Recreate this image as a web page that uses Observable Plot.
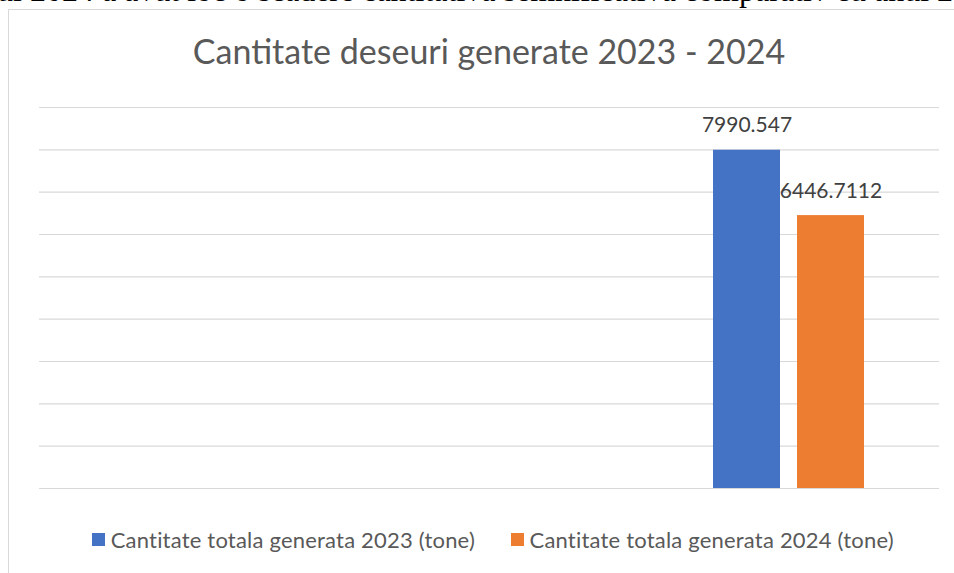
<!DOCTYPE html>
<html><head><meta charset="utf-8">
<script src="https://cdn.jsdelivr.net/npm/d3@7"></script>
<script src="https://cdn.jsdelivr.net/npm/@observablehq/plot@0.6"></script>
<style>
html,body{margin:0;padding:0;background:#fff;overflow:hidden;width:954px;height:573px;}
#wrap{position:relative;width:954px;height:573px;overflow:hidden;background:#fff;}
#doc{position:absolute;left:-3px;top:-26.5px;font-family:"Liberation Serif",serif;font-size:32px;line-height:32px;white-space:nowrap;color:#000;}
#frame{position:absolute;left:8px;top:9px;width:1000px;height:700px;border:1px solid #d9d9d9;background:#fff;}
#title{position:absolute;left:38px;width:902px;top:30px;line-height:42px;text-align:center;font-family:Lato,sans-serif;font-size:34px;color:#595959;white-space:nowrap;}
#chart{position:absolute;left:0;top:0;}
#legend{position:absolute;left:42px;width:902px;top:527.5px;height:24px;display:flex;justify-content:center;gap:36px;font-family:Lato,sans-serif;font-size:22px;letter-spacing:0.2px;line-height:24px;color:#595959;white-space:nowrap;}
#legend .item{display:flex;align-items:center;}
#legend .sw{width:13px;height:13px;margin-right:5.5px;display:inline-block;}
</style>
</head><body>
<div id="wrap">
  <div id="doc"></div>
  <div id="frame"></div>
  <div id="title"></div>
  <div id="chart"></div>
  <div id="legend"></div>
</div>
<script>
const docLine = "ul 2024 a avut loc o scadere cantitativa semnificativa comparativ cu anul 2023";
const chartTitle = "Cantitate deseuri generate 2023 - 2024";
const categories = ["1", "2", "3"];
const seriesNames = ["Cantitate totala generata 2023 (tone)", "Cantitate totala generata 2024 (tone)"];
const values2023 = [null, null, 7990.547];
const values2024 = [null, null, 6446.7112];
const gridTicks = [0, 1000, 2000, 3000, 4000, 5000, 6000, 7000, 8000, 9000];
const seriesColors = ["#4472c4", "#ed7d31"];

document.getElementById("doc").textContent = docLine;
document.getElementById("title").textContent = chartTitle;

const seriesValues = [values2023, values2024];
const rows = [];
categories.forEach((c, i) => {
  seriesNames.forEach((s, j) => {
    rows.push({cat: c, series: s, value: seriesValues[j][i]});
  });
});

const chart = Plot.plot({
  width: 954,
  height: 573,
  marginLeft: 38,
  marginRight: 14,
  marginTop: 107,
  marginBottom: 85,
  style: {background: "transparent", overflow: "visible"},
  fx: {domain: categories, padding: 0, axis: null},
  x: {domain: seriesNames, paddingInner: 0.2, paddingOuter: 0.867, axis: null},
  y: {domain: [0, 9000], axis: null},
  color: {domain: seriesNames, range: seriesColors},
  marks: [
    Plot.ruleY(gridTicks, {stroke: "#d9d9d9", strokeWidth: 1.2}),
    Plot.barY(rows, {fx: "cat", x: "series", y: "value", fill: "series"}),
    Plot.text(rows.filter(d => d.value != null), {
      fx: "cat", x: "series", y: "value", text: d => String(d.value),
      dy: -18, lineAnchor: "bottom", fontSize: 21, fill: "#404040",
      fontFamily: "Lato, sans-serif"
    })
  ]
});
document.getElementById("chart").appendChild(chart);

const legend = document.getElementById("legend");
seriesNames.forEach((s, i) => {
  const item = document.createElement("div");
  item.className = "item";
  const sw = document.createElement("span");
  sw.className = "sw";
  sw.style.background = seriesColors[i];
  const t = document.createElement("span");
  t.textContent = s;
  item.appendChild(sw);
  item.appendChild(t);
  legend.appendChild(item);
});
</script>
</body></html>
